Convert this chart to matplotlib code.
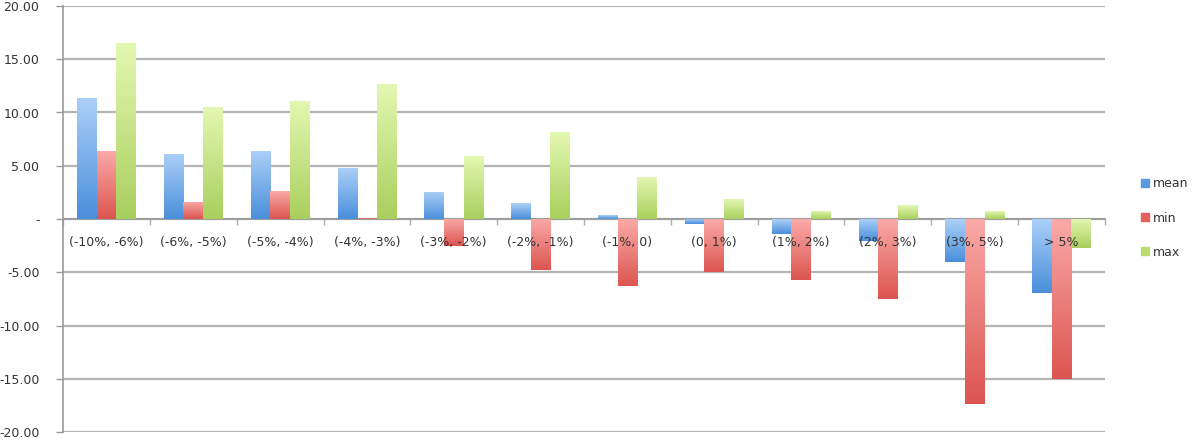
import numpy as np
import matplotlib
matplotlib.use("Agg")
import matplotlib.pyplot as plt
from matplotlib.colors import LinearSegmentedColormap
from matplotlib.ticker import FixedLocator, FuncFormatter

categories = ["(-10%, -6%)", "(-6%, -5%)", "(-5%, -4%)", "(-4%, -3%)", "(-3%, -2%)",
              "(-2%, -1%)", "(-1%, 0)", "(0, 1%)", "(1%, 2%)", "(2%, 3%)", "(3%, 5%)", "> 5%"]
mean_vals = [11.4, 6.15, 6.4, 4.8, 2.55, 1.5, 0.35, -0.5, -1.4, -2.1, -4.0, -6.95]
min_vals = [6.4, 1.6, 2.6, 0.1, -2.55, -4.8, -6.25, -4.95, -5.7, -7.55, -17.4, -15.05]
max_vals = [16.5, 10.5, 11.1, 12.65, 5.9, 8.15, 3.9, 1.85, 0.78, 1.3, 0.75, -2.75]
series_names = ["mean", "min", "max"]
yticks = [-20, -15, -10, -5, 0, 5, 10, 15, 20]

# (light top, dark bottom) colors for each series
grad_colors = [("#acd0f8", "#4a8fdb"), ("#faaaa8", "#dc5550"), ("#e3f8b2", "#a9cf5d")]
legend_colors = ["#5a9be0", "#e06360", "#b9dc72"]

fig = plt.figure(figsize=(12, 4.4), dpi=100)
ax = fig.add_axes([63 / 1200, 8 / 440, 1042 / 1200, 426 / 440])

x = np.arange(len(categories))
w = 0.225
offsets = [-w, 0, w]
all_vals = [mean_vals, min_vals, max_vals]

grad = np.linspace(0, 1, 256).reshape(-1, 1)
for vals, off, (c_light, c_dark), name in zip(all_vals, offsets, grad_colors, series_names):
    cmap = LinearSegmentedColormap.from_list(name, [c_light, c_dark])
    bars = ax.bar(x + off, vals, width=w, color="none", edgecolor="none", zorder=2)
    for b in bars:
        bx, by = b.get_x(), b.get_y()
        bw, bh = b.get_width(), b.get_height()
        y0, y1 = min(by, by + bh), max(by, by + bh)
        im = ax.imshow(grad, extent=[bx, bx + bw, y0, y1], cmap=cmap, aspect="auto",
                       origin="upper", zorder=2, interpolation="bilinear")
        im.set_clip_path(b)

ax.set_xlim(-0.5, len(categories) - 0.5)
ax.set_ylim(-20, 20)

# gridlines
ax.set_axisbelow(True)
ax.yaxis.set_major_locator(FixedLocator(yticks))
ax.yaxis.set_major_formatter(FuncFormatter(lambda v, p: "-" if v == 0 else f"{v:.2f}"))
ax.grid(axis="y", color="#b4b4b4", linewidth=1.6, zorder=0)
ax.tick_params(axis="y", length=5, width=1, color="#999999", pad=12,
               labelsize=9, labelcolor="#333333")

# spines
for s in ["top", "right"]:
    ax.spines[s].set_visible(False)
ax.spines["left"].set_color("#999999")
ax.spines["left"].set_linewidth(1.2)
ax.spines["bottom"].set_position(("data", 0))
ax.spines["bottom"].set_color("#999999")
ax.spines["bottom"].set_linewidth(1.2)
ax.spines["bottom"].set_zorder(1)

ax.xaxis.set_major_locator(FixedLocator(x))
ax.xaxis.set_major_formatter(FuncFormatter(lambda v, p: ""))
ax.xaxis.set_minor_locator(FixedLocator(np.arange(len(categories) + 1) - 0.5))
ax.tick_params(axis="x", which="major", length=0)
ax.tick_params(axis="x", which="minor", length=4, width=1, color="#aaaaaa", direction="out")

for xi, cat in zip(x, categories):
    ax.annotate(cat, (xi, 0), xytext=(0, -23), textcoords="offset pixels",
                ha="center", va="center", fontsize=9, color="#333333", zorder=5,
                annotation_clip=False)

handles = [plt.Rectangle((0, 0), 1, 1, color=c) for c in legend_colors]
fig.legend(handles, series_names, loc="center left", bbox_to_anchor=(1130 / 1200, 1 - 218 / 440),
           frameon=False, fontsize=9, handlelength=0.6, handleheight=0.6,
           labelspacing=1.7, handletextpad=0.3, labelcolor="#333333")

fig.savefig("out.png", dpi=100, facecolor="white")
